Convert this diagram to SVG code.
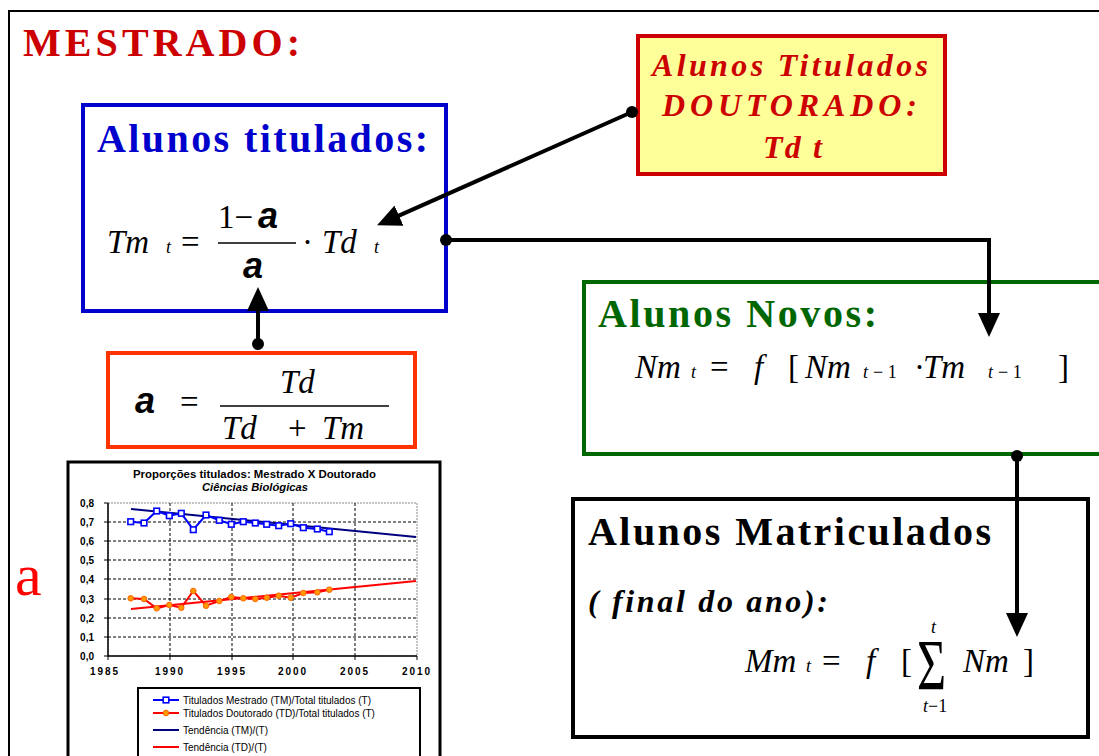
<svg xmlns="http://www.w3.org/2000/svg" width="1099" height="756" viewBox="0 0 1099 756">
<style>
.serif{font-family:"Liberation Serif","Times New Roman",serif}
.sans{font-family:"Liberation Sans",Arial,sans-serif}
.title{font-family:"Liberation Serif",serif;font-weight:bold;font-size:40px}
.m{font-family:"Liberation Serif",serif;font-style:italic;font-size:33px;fill:#000}
.mu{font-family:"Liberation Serif",serif;font-size:33px;fill:#000}
.sub{font-family:"Liberation Serif",serif;font-style:italic;font-size:18px;fill:#000}
.subu{font-family:"Liberation Serif",serif;font-style:normal;font-size:18px;fill:#000}
.alpha{font-family:"Liberation Sans",Arial,sans-serif;font-weight:bold;font-style:italic;font-size:36px;fill:#000}
.conn{fill:none;stroke:#000;stroke-width:4}
.dot{fill:#000}
.grid{stroke:#000;stroke-width:1;stroke-dasharray:3,2}
.lbl{font-family:"Liberation Sans",Arial,sans-serif;font-weight:bold;font-size:10px;fill:#000}
.leg{font-family:"Liberation Sans",Arial,sans-serif;font-size:10px;fill:#000}
</style>
<defs>
<marker id="arr" markerUnits="userSpaceOnUse" markerWidth="24" markerHeight="22" viewBox="0 0 24 22" refX="13" refY="11" orient="auto">
<path d="M0,0 L24,11 L0,22 z" fill="#000"/>
</marker>
<marker id="sq" markerUnits="userSpaceOnUse" markerWidth="8" markerHeight="8" viewBox="0 0 8 8" refX="4" refY="4">
<rect x="1.2" y="1.2" width="5.6" height="5.6" fill="#fff" stroke="#0000FF" stroke-width="1.6"/>
</marker>
<marker id="ci" markerUnits="userSpaceOnUse" markerWidth="8" markerHeight="8" viewBox="0 0 8 8" refX="4" refY="4">
<circle cx="4" cy="4" r="2.8" fill="#FF9900" stroke="#FF6600" stroke-width="1"/>
</marker>
</defs>
<rect width="1099" height="756" fill="#fff"/>
<path d="M9,760 V11 H1105" fill="none" stroke="#000" stroke-width="2"/>
<text x="23" y="56" class="title" fill="#CC0000" textLength="277" lengthAdjust="spacing">MESTRADO:</text>

<g id="node-titulados">
<rect x="83" y="105" width="363" height="206" fill="#fff" stroke="#0000CC" stroke-width="4"/>
<text x="97" y="152" class="title" fill="#0000CC" textLength="331" lengthAdjust="spacing">Alunos titulados:</text>
<text x="107" y="253" class="m">Tm</text>
<text x="166" y="253" class="sub">t</text>
<text x="181" y="253" class="mu" font-size="36">=</text>
<text x="218" y="228" class="mu" font-size="36">1−</text>
<text x="258" y="228" class="alpha" font-size="40">a</text>
<line x1="218" y1="243" x2="296" y2="243" stroke="#000" stroke-width="1.5"/>
<text x="243" y="278" class="alpha" font-size="40">a</text>
<text x="302" y="253" class="mu">·</text>
<text x="322" y="253" class="m">Td</text>
<text x="374" y="253" class="sub">t</text>
</g>

<g id="node-alpha">
<rect x="108" y="353" width="307" height="94" fill="#fff" stroke="#FF3300" stroke-width="4"/>
<text x="135" y="413" class="alpha">a</text>
<text x="180" y="413" class="mu">=</text>
<text x="280" y="393" class="m">Td</text>
<line x1="220" y1="406" x2="389" y2="406" stroke="#000" stroke-width="1.5"/>
<text x="222" y="439" class="m">Td</text>
<text x="288" y="439" class="mu">+</text>
<text x="322" y="439" class="m">Tm</text>
</g>

<g id="node-doutorado">
<rect x="638" y="36" width="307" height="138" fill="#FFFF99" stroke="#CC0000" stroke-width="4"/>
<g class="serif" font-weight="bold" font-style="italic" font-size="32" fill="#CC0000">
<text x="652" y="76" textLength="276" lengthAdjust="spacing">Alunos Titulados</text>
<text x="662" y="116" textLength="255" lengthAdjust="spacing">DOUTORADO:</text>
<text x="763" y="158" textLength="59" lengthAdjust="spacing">Td t</text>
</g>
</g>

<g id="node-novos">
<rect x="584" y="282" width="600" height="172" fill="#fff" stroke="#006600" stroke-width="4"/>
<text x="598" y="327" class="title" fill="#006600" textLength="279" lengthAdjust="spacing">Alunos Novos:</text>
<text x="635" y="378" class="m">Nm</text>
<text x="691" y="378" class="sub">t</text>
<text x="710" y="378" class="mu">=</text>
<text x="754" y="378" class="m">f</text>
<text x="788" y="378" class="mu">[</text>
<text x="805" y="378" class="m">Nm</text>
<text x="863" y="378" class="sub">t<tspan class="subu" dx="5">− 1</tspan></text>
<text x="914" y="378" class="mu">·</text>
<text x="923" y="378" class="m">Tm</text>
<text x="988" y="378" class="sub">t<tspan class="subu" dx="5">− 1</tspan></text>
<text x="1058" y="378" class="mu">]</text>
</g>

<g id="node-matriculados">
<rect x="573" y="499" width="515" height="238" fill="#fff" stroke="#000" stroke-width="4"/>
<text x="588" y="545" class="title" fill="#000" textLength="403" lengthAdjust="spacing">Alunos Matriculados</text>
<text x="588" y="612" class="serif" font-weight="bold" font-style="italic" font-size="32" fill="#000" textLength="240" lengthAdjust="spacing">( final do ano):</text>
<text x="745" y="672" class="m">Mm</text>
<text x="806" y="672" class="sub">t</text>
<text x="822" y="672" class="mu">=</text>
<text x="866" y="672" class="m">f</text>
<text x="901" y="672" class="mu">[</text>
<text transform="translate(917,689) scale(1,1.42)" class="serif" font-size="50" fill="#000">Σ</text>
<text x="931" y="633" class="sub">t</text>
<text x="923" y="712" class="sub">t<tspan class="subu">−1</tspan></text>
<text x="963" y="672" class="m">Nm</text>
<text x="1023" y="672" class="mu">]</text>
</g>

<text x="15" y="595" class="serif" font-size="60" fill="#FF0000">a</text>

<g id="chart">
<rect x="68" y="462" width="372" height="300" fill="#fff" stroke="#000" stroke-width="3"/>
<text x="133" y="478" class="sans" font-weight="bold" font-size="10.5" textLength="243" lengthAdjust="spacingAndGlyphs">Proporções titulados:  Mestrado X Doutorado</text>
<text x="202" y="491" class="sans" font-weight="bold" font-style="italic" font-size="10.5" textLength="106" lengthAdjust="spacingAndGlyphs">Ciências Biológicas</text>
<rect x="108" y="503" width="309" height="153" fill="#fff" stroke="#888" stroke-width="1" stroke-dasharray="2,1"/>
<g class="grid">
<line x1="108" y1="522" x2="417" y2="522"/>
<line x1="108" y1="541" x2="417" y2="541"/>
<line x1="108" y1="560" x2="417" y2="560"/>
<line x1="108" y1="579" x2="417" y2="579"/>
<line x1="108" y1="599" x2="417" y2="599"/>
<line x1="108" y1="618" x2="417" y2="618"/>
<line x1="108" y1="637" x2="417" y2="637"/>
<line x1="170" y1="503" x2="170" y2="656"/>
<line x1="232" y1="503" x2="232" y2="656"/>
<line x1="293" y1="503" x2="293" y2="656"/>
<line x1="355" y1="503" x2="355" y2="656"/>
</g>
<path d="M108,503 V656 H417" fill="none" stroke="#000" stroke-width="1.5"/>
<path d="M104,503 H108 M104,522 H108 M104,541 H108 M104,560 H108 M104,579 H108 M104,599 H108 M104,618 H108 M104,637 H108 M104,656 H108 M108,656 V660 M170,656 V660 M232,656 V660 M293,656 V660 M355,656 V660 M417,656 V660" stroke="#000" stroke-width="1"/>
<g class="lbl" text-anchor="end">
<text x="94" y="507">0,8</text>
<text x="94" y="526">0,7</text>
<text x="94" y="545">0,6</text>
<text x="94" y="564">0,5</text>
<text x="94" y="583">0,4</text>
<text x="94" y="603">0,3</text>
<text x="94" y="622">0,2</text>
<text x="94" y="641">0,1</text>
<text x="94" y="660">0,0</text>
</g>
<g class="lbl" text-anchor="middle" letter-spacing="2">
<text x="105" y="675">1985</text>
<text x="170" y="675">1990</text>
<text x="232" y="675">1995</text>
<text x="293" y="675">2000</text>
<text x="355" y="675">2005</text>
<text x="417" y="675">2010</text>
</g>
<line x1="131" y1="509" x2="416" y2="537" stroke="#000080" stroke-width="2"/>
<line x1="131" y1="609" x2="416" y2="581" stroke="#FF0000" stroke-width="2"/>
<polyline points="130.7,521.7 144,523 156.7,511 169.3,515.7 181.3,513.3 193.3,529.7 206,515 219.3,520.3 231.3,524.3 243.3,521.7 255.3,523 266.7,524.3 278.7,525.7 290.7,523.7 303.3,527.7 317.3,529 329.3,531.7" fill="none" stroke="#0000FF" stroke-width="2" marker-start="url(#sq)" marker-mid="url(#sq)" marker-end="url(#sq)"/>
<polyline points="130.7,598.3 144,599 156.7,608.3 169.3,605 181.3,607.7 193.3,591 206,605.7 219.3,601 231.3,597 243.3,598.3 255.3,599 266.7,597.7 278.7,595.7 290.7,597.7 303.3,593 317.3,592.3 329.3,589.7" fill="none" stroke="#FF0000" stroke-width="2" marker-start="url(#ci)" marker-mid="url(#ci)" marker-end="url(#ci)"/>
<rect x="138" y="688" width="282" height="72" fill="#fff" stroke="#000" stroke-width="2"/>
<polyline points="153,700 166,700 179,700" fill="none" stroke="#0000FF" stroke-width="2" marker-mid="url(#sq)"/>
<polyline points="153,713 166,713 179,713" fill="none" stroke="#FF0000" stroke-width="2" marker-mid="url(#ci)"/>
<line x1="153" y1="730" x2="179" y2="730" stroke="#000080" stroke-width="2"/>
<line x1="153" y1="747" x2="179" y2="747" stroke="#FF0000" stroke-width="2"/>
<text x="183" y="704" class="leg">Titulados Mestrado (TM)/Total titulados (T)</text>
<text x="183" y="717" class="leg">Titulados Doutorado (TD)/Total titulados (T)</text>
<text x="183" y="734" class="leg">Tendência (TM)/(T)</text>
<text x="183" y="751" class="leg">Tendência  (TD)/(T)</text>
</g>

<g id="connectors">
<path class="conn" d="M632,112 L387.1,220.9" marker-end="url(#arr)"/>
<path class="conn" d="M446,240 H989 V326" marker-end="url(#arr)"/>
<path class="conn" d="M258,344 V298" marker-end="url(#arr)"/>
<path class="conn" d="M1017,456 V626" stroke-width="6" marker-end="url(#arr)"/>
<circle class="dot" cx="632" cy="112" r="6"/>
<circle class="dot" cx="446" cy="240" r="6"/>
<circle class="dot" cx="258" cy="344" r="6"/>
<circle class="dot" cx="1017" cy="456" r="6"/>
</g>
</svg>
